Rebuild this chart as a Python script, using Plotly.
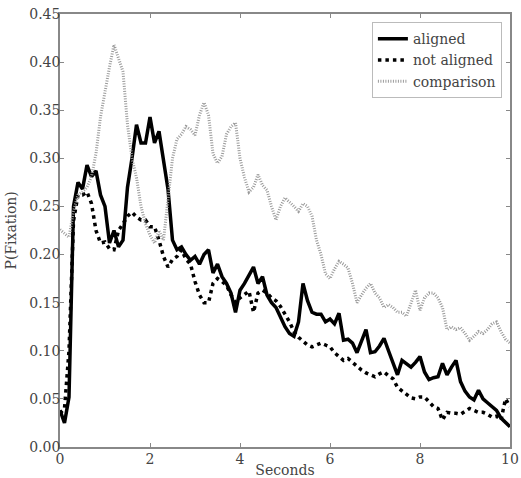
import plotly.graph_objects as go

seconds = [round(i * 0.1, 1) for i in range(101)]

aligned = [
    0.038, 0.025, 0.052, 0.250, 0.275, 0.268, 0.293, 0.281, 0.287, 0.262,
    0.250, 0.212, 0.225, 0.208, 0.215, 0.270, 0.300, 0.335, 0.316, 0.316,
    0.343, 0.316, 0.328, 0.300, 0.268, 0.215, 0.205, 0.208, 0.200, 0.194,
    0.198, 0.190, 0.200, 0.205, 0.181, 0.190, 0.177, 0.170, 0.160, 0.140,
    0.163, 0.170, 0.178, 0.187, 0.170, 0.177, 0.158, 0.150, 0.145, 0.135,
    0.125, 0.118, 0.115, 0.130, 0.170, 0.152, 0.140, 0.138, 0.138, 0.130,
    0.133, 0.128, 0.139, 0.111, 0.112, 0.108, 0.098, 0.110, 0.122, 0.098,
    0.099, 0.105, 0.113, 0.100, 0.088, 0.075, 0.090, 0.086, 0.083, 0.088,
    0.094, 0.078, 0.070, 0.072, 0.073, 0.087, 0.075, 0.083, 0.090, 0.068,
    0.058, 0.052, 0.049, 0.059, 0.050, 0.046, 0.042, 0.038, 0.030, 0.025,
    0.021,
]

not_aligned = [
    0.035, 0.040, 0.100, 0.235, 0.262, 0.262, 0.265, 0.253, 0.225, 0.212,
    0.213, 0.206, 0.205, 0.225, 0.232, 0.240, 0.244, 0.239, 0.236, 0.236,
    0.229, 0.229, 0.215, 0.198, 0.187, 0.195, 0.198, 0.205, 0.195, 0.190,
    0.172, 0.158, 0.150, 0.150, 0.170, 0.175, 0.172, 0.168, 0.158, 0.150,
    0.155, 0.158, 0.162, 0.140, 0.160, 0.163, 0.160, 0.155, 0.152, 0.146,
    0.138, 0.130, 0.120, 0.114, 0.110, 0.106, 0.104, 0.106, 0.108, 0.106,
    0.104, 0.098, 0.094, 0.090, 0.092, 0.088, 0.083, 0.080, 0.077, 0.075,
    0.073, 0.076, 0.078, 0.074, 0.071, 0.062, 0.058, 0.054, 0.051, 0.050,
    0.052, 0.052, 0.047, 0.042, 0.040, 0.028, 0.036, 0.035, 0.035, 0.034,
    0.037, 0.040, 0.038, 0.036, 0.036, 0.034, 0.031, 0.032, 0.028, 0.050,
    0.042,
]

comparison = [
    0.226, 0.222, 0.218, 0.245, 0.262, 0.265, 0.270, 0.281, 0.305, 0.343,
    0.370, 0.395, 0.418, 0.405, 0.390, 0.335, 0.300, 0.280, 0.250, 0.232,
    0.220, 0.212, 0.225, 0.215, 0.260, 0.300, 0.320, 0.325, 0.333, 0.330,
    0.324, 0.345, 0.358, 0.345, 0.305, 0.295, 0.302, 0.325, 0.333, 0.337,
    0.300, 0.280, 0.265, 0.270, 0.283, 0.272, 0.267, 0.250, 0.236, 0.250,
    0.259, 0.255, 0.250, 0.245, 0.253, 0.250, 0.240, 0.215, 0.200, 0.180,
    0.175, 0.185, 0.193, 0.190, 0.186, 0.170, 0.150, 0.158, 0.165, 0.170,
    0.160, 0.155, 0.145, 0.148, 0.145, 0.140, 0.140, 0.136, 0.150, 0.163,
    0.142, 0.155, 0.160, 0.160, 0.155, 0.145, 0.122, 0.125, 0.122, 0.124,
    0.118, 0.111, 0.115, 0.120, 0.118, 0.122, 0.128, 0.130, 0.120, 0.112,
    0.108,
]

x_ticks = [0, 2, 4, 6, 8, 10]
y_ticks = [0.0, 0.05, 0.10, 0.15, 0.20, 0.25, 0.30, 0.35, 0.40, 0.45]

font = dict(family="DejaVu Serif, serif", size=14, color="#444444")

fig = go.Figure()
fig.add_trace(go.Scatter(x=seconds, y=aligned, mode="lines", name="aligned",
                         line=dict(color="black", width=3.5)))
fig.add_trace(go.Scatter(x=seconds, y=not_aligned, mode="lines", name="not aligned",
                         line=dict(color="black", width=3.5, dash="3.5px,4px")))
fig.add_trace(go.Scatter(x=seconds, y=comparison, mode="lines", name="comparison",
                         line=dict(color="#9a9a9a", width=3, dash="1px,1.5px")))

axis_common = dict(showline=True, linecolor="#888888", linewidth=1.5, mirror="ticks",
                   ticks="inside", ticklen=4, tickcolor="#888888", showgrid=False,
                   zeroline=False, tickfont=font, automargin=False,
                   ticklabeloverflow="allow")

fig.update_layout(
    width=521, height=478,
    margin=dict(l=60, r=11, t=14, b=31),
    paper_bgcolor="white", plot_bgcolor="white",
    font=font,
    xaxis=dict(range=[0, 10], tickvals=x_ticks, ticktext=[str(v) for v in x_ticks],
               ticklabelstandoff=-2,
               title=dict(text="Seconds", standoff=0, font=font), **axis_common),
    yaxis=dict(range=[0, 0.45], tickvals=y_ticks, tickformat=".2f",
               ticklabelstandoff=-5, **axis_common),
    legend=dict(x=0.982, y=0.981, xanchor="right", yanchor="top",
                bgcolor="white", bordercolor="#bbbbbb", borderwidth=1,
                font=font, tracegroupgap=0, itemwidth=30),
    showlegend=True,
    annotations=[dict(text="P(Fixation)", textangle=-90, xref="paper", yref="paper",
                      x=0, y=0.5, xanchor="center", yanchor="middle", xshift=-50,
                      showarrow=False, font=font)],
)

fig.write_html("out.html", config={"displayModeBar": False},
               post_script="document.body.style.margin='0';")
